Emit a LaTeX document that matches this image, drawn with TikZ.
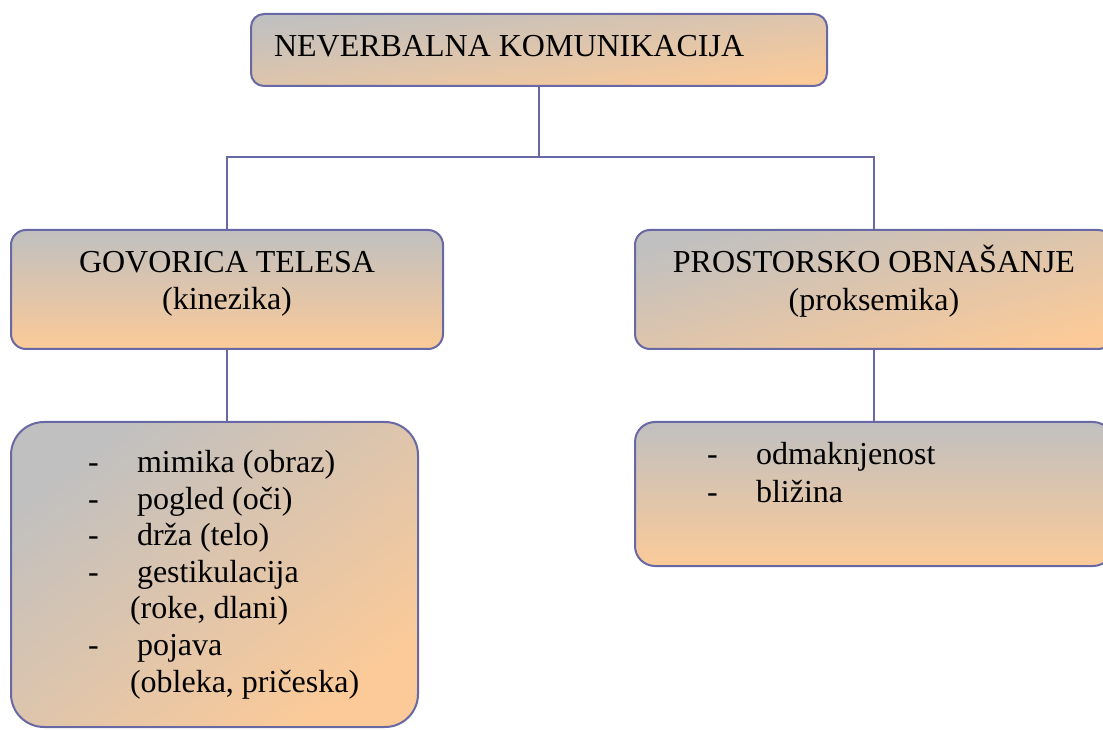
\documentclass[tikz,border=0pt]{standalone}
\usepackage{fontspec}
\setmainfont{Liberation Serif}
\definecolor{edge}{RGB}{104,104,164}
\definecolor{gtop}{RGB}{192,192,192}
\definecolor{gbot}{RGB}{251,202,152}
\tikzset{
  box/.style={draw=edge, line width=2pt, top color=gtop, bottom color=gbot,
    inner sep=0pt, outer sep=0pt},
  link/.style={draw=edge, line width=2pt},
  txt/.style={inner sep=0pt, outer sep=0pt, anchor=base west, text=black},
  ctxt/.style={inner sep=0pt, outer sep=0pt, anchor=base, text=black},
}
\begin{document}
\begin{tikzpicture}[x=1pt, y=1pt, font=\fontsize{32}{37}\selectfont]
\useasboundingbox (0,0) rectangle (1103,729);
% boxes
\node[box, rounded corners=13pt, shading angle=7, minimum width=576pt, minimum height=72pt] (top) at (539,679) {};
\node[box, rounded corners=15pt, minimum width=432pt, minimum height=119pt] (lm) at (227,439.5) {};
\node[box, rounded corners=15pt, shading angle=14, minimum width=478pt, minimum height=119pt] (rm) at (874,439.5) {};
\node[box, rounded corners=33pt, shading angle=37, minimum width=407pt, minimum height=305pt] (ll) at (214.5,154.5) {};
\node[box, rounded corners=20pt, minimum width=478pt, minimum height=144pt] (rl) at (874,235) {};
% connectors
\coordinate (bus) at (539,572);
\draw[link] (top.south) -- (bus);
\draw[link] (lm.north) |- (bus) -| (rm.north);
\draw[link] (lm.south) -- (lm.south |- ll.north);
\draw[link] (rm.south) -- (rl.north);
% texts
\node[txt] (ttitle) at (274,672) {NEVERBALNA KOMUNIKACIJA};
\node[ctxt] (tlm1) at (227,456) {GOVORICA TELESA};
\node[ctxt] (tlm2) at (227,419) {(kinezika)};
\node[ctxt] (trm1) at (874,456) {PROSTORSKO OBNAŠANJE};
\node[ctxt] (trm2) at (874,418) {(proksemika)};
% left list
\foreach \y/\t [count=\i] in {257/mimika (obraz), 220/pogled (oči), 184/drža (telo), 147/gestikulacija, 74/pojava}{
  \node[txt] (ld\i) at (88,\y) {-};
  \node[txt] (lt\i) at (137,\y) {\t};
}
\node[txt] (lc1) at (130,111) {(roke, dlani)};
\node[txt] (lc2) at (130,37) {(obleka, pričeska)};
% right list
\node[txt] (rd1) at (707,264) {-};
\node[txt] (rt1) at (756,264) {odmaknjenost};
\node[txt] (rd2) at (707,226) {-};
\node[txt] (rt2) at (756,226) {bližina};
\end{tikzpicture}
\end{document}
